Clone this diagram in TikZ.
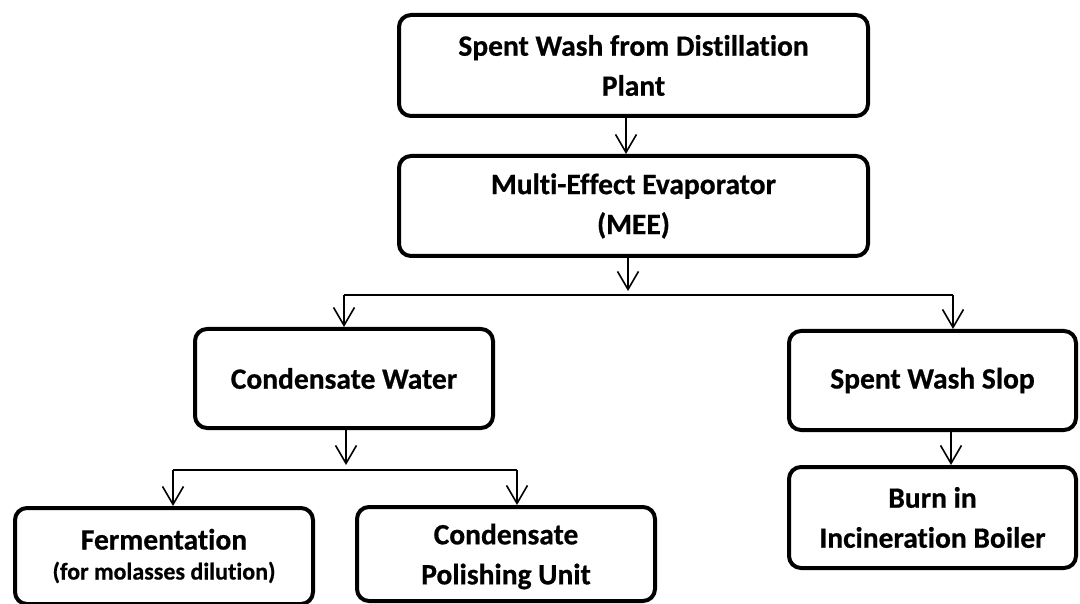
\documentclass[tikz,border=0pt]{standalone}
\usepackage{fontspec}
\setmainfont{Carlito}[Ligatures=NoCommon, BoldFeatures={FakeBold=0.6}]
\usetikzlibrary{arrows.meta}
\begin{document}
\begin{tikzpicture}[x=1pt,y=-1pt,
  box/.style={draw, line width=4pt, rounded corners=12pt, align=center, inner sep=0pt,
    font=\fontsize{29.5}{40}\selectfont\bfseries},
  arr/.style={line width=1.6pt, -{Straight Barb[length=18pt,width=21pt,line width=1.6pt]}},
  ln/.style={line width=1.6pt}]
\useasboundingbox (0,0) rectangle (1080,604);
\node[box, minimum width=469pt, minimum height=101pt] (b1) at (633.5,65.5) {Spent Wash from Distillation\\Plant};
\node[box, minimum width=469pt, minimum height=100pt] (b2) at (633.5,206) {Multi-Effect Evaporator\\(MEE)};
\node[box, minimum width=298pt, minimum height=99pt] (b3) at (344,378.5) {Condensate Water};
\node[box, minimum width=287pt, minimum height=99pt] (b4) at (932.5,380.5) {Spent Wash Slop};
\node[box, minimum width=287pt, minimum height=101pt] (b5) at (932.5,517.5) {Burn in\\Incineration Boiler};
\node[box, minimum width=298pt, minimum height=96pt] (b6) at (164,556) {Fermentation\\[-10pt]{\fontsize{24}{27}\selectfont(for molasses dilution)}};
\node[box, minimum width=298pt, minimum height=94pt, text depth=-4pt] (b7) at (506,554) {Condensate\\Polishing Unit};
\coordinate (x1) at (626,0);
\coordinate (j1) at (628,295);
\coordinate (jl) at (344,295);
\coordinate (jr) at (953,295);
\coordinate (x2) at (951,0);
\coordinate (j2) at (346,470);
\coordinate (jl2) at (173,470);
\coordinate (jr2) at (517,470);
\draw[arr] (b1.south -| x1) -- (b2.north -| x1);
\draw[arr] (b2.south -| j1) -- ([yshift=4pt]j1);
\draw[ln] (jl) -- (jr);
\draw[arr] (jl) -- (b3.north -| jl);
\draw[arr] (jr) -- (b4.north -| jr);
\draw[arr] (b4.south -| x2) -- (b5.north -| x2);
\draw[arr] (b3.south -| j2) -- ([yshift=5pt]j2);
\draw[ln] (jl2) -- (jr2);
\draw[arr] (jl2) -- (b6.north -| jl2);
\draw[arr] (jr2) -- (b7.north -| jr2);
\end{tikzpicture}
\end{document}
